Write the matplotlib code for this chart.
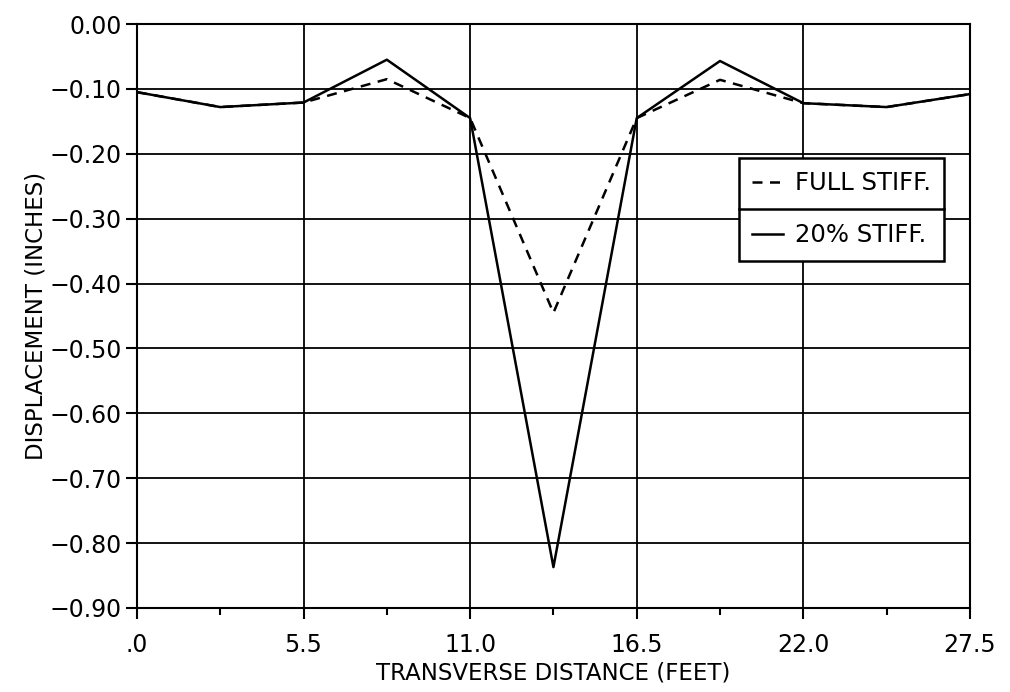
import matplotlib
matplotlib.use("Agg")
import matplotlib.pyplot as plt
from matplotlib.lines import Line2D

# transverse position of each node (feet)
x_ft = [0.0, 2.75, 5.5, 8.25, 11.0, 13.75, 16.5, 19.25, 22.0, 24.75, 27.5]
# displacement (inches)
full_stiff = [-0.105, -0.128, -0.121, -0.085, -0.145, -0.445, -0.145, -0.086, -0.122, -0.128, -0.108]
stiff_20 = [-0.105, -0.128, -0.121, -0.055, -0.145, -0.837, -0.145, -0.057, -0.122, -0.128, -0.108]

x_ticks = [0.0, 5.5, 11.0, 16.5, 22.0, 27.5]
x_ticklabels = [".0", "5.5", "11.0", "16.5", "22.0", "27.5"]
x_minor = [2.75, 8.25, 13.75, 19.25, 24.75]
y_ticks = [0.0, -0.1, -0.2, -0.3, -0.4, -0.5, -0.6, -0.7, -0.8, -0.9]
y_ticklabels = ["0.00", "\u22120.10", "\u22120.20", "\u22120.30", "\u22120.40",
                "\u22120.50", "\u22120.60", "\u22120.70", "\u22120.80", "\u22120.90"]


def main():
    plt.rcParams["font.family"] = ["DejaVu Sans"]
    fig = plt.figure(figsize=(10.1, 6.92), dpi=100)
    ax = fig.add_axes([0.1356, 0.1214, 0.8247, 0.8439])

    ax.plot(x_ft, full_stiff, color="black", linewidth=1.8, linestyle=(0, (4, 3)),
            label="FULL STIFF.")
    ax.plot(x_ft, stiff_20, color="black", linewidth=1.8, label="20% STIFF.")

    ax.set_xlim(0, 27.5)
    ax.set_ylim(-0.9, 0.0)
    ax.set_xticks(x_ticks)
    ax.set_xticklabels(x_ticklabels)
    ax.set_xticks(x_minor, minor=True)
    ax.set_yticks(y_ticks)
    ax.set_yticklabels(y_ticklabels)
    ax.tick_params(axis="both", which="major", length=8, width=1.5, labelsize=17,
                   direction="out", colors="black")
    ax.tick_params(axis="x", which="minor", length=5, width=1.5, direction="out")
    ax.tick_params(axis="x", pad=10)
    ax.tick_params(axis="y", pad=3)
    ax.grid(True, which="major", color="black", linewidth=1.3)
    for s in ax.spines.values():
        s.set_linewidth(1.5)

    ax.set_xlabel("TRANSVERSE DISTANCE (FEET)", fontsize=16.5, labelpad=3)
    ax.set_ylabel("DISPLACEMENT (INCHES)", fontsize=16.5, labelpad=1)

    leg = ax.legend(loc="upper left", bbox_to_anchor=(0.7227, 0.7705), fontsize=17.5,
                    frameon=True, fancybox=False, framealpha=1, edgecolor="black",
                    handlelength=1.25, handletextpad=0.5, borderpad=0.55,
                    labelspacing=1.15, borderaxespad=0)
    leg.get_frame().set_linewidth(1.8)
    leg.set_zorder(5)

    # divider between the two legend rows
    fig.canvas.draw()
    bb = leg.get_window_extent().transformed(fig.transFigure.inverted())
    ymid = (bb.y0 + bb.y1) / 2
    fig.add_artist(Line2D([bb.x0, bb.x1], [ymid, ymid], color="black",
                          linewidth=1.8, zorder=6))

    fig.savefig("out.png", dpi=100, facecolor="white")


if __name__ == "__main__":
    main()
